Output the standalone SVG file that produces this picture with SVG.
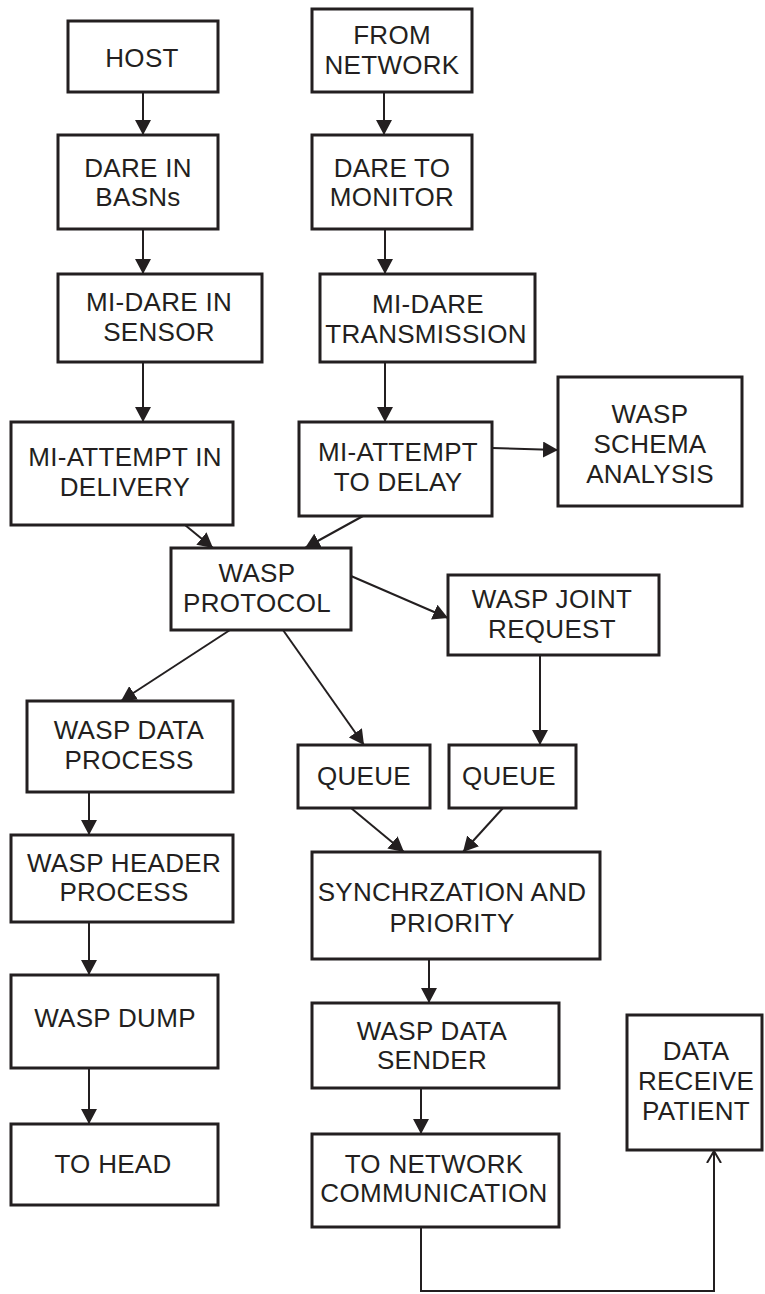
<svg xmlns="http://www.w3.org/2000/svg" width="765" height="1294" viewBox="0 0 765 1294">
<defs>
<style>
.box{fill:#ffffff;stroke:#231f20;stroke-width:3}
.t{font-family:"Liberation Sans",Arial,sans-serif;font-size:26px;letter-spacing:0.3px;fill:#231f20;text-anchor:middle}
.c{fill:none;stroke:#231f20;stroke-width:2}
.a{marker-end:url(#ah)}
</style>
<marker id="ah" viewBox="0 0 15 16" refX="15" refY="8" markerWidth="15" markerHeight="16" markerUnits="userSpaceOnUse" orient="auto">
<path d="M0,0 L15,8 L0,16 z" fill="#231f20"/>
</marker>
<marker id="oh" viewBox="0 0 12 16" refX="12" refY="8" markerWidth="12" markerHeight="16" markerUnits="userSpaceOnUse" orient="auto">
<path d="M0,1 L12,8 L0,15" fill="none" stroke="#231f20" stroke-width="2"/>
</marker>
</defs>
<rect width="765" height="1294" fill="#ffffff"/>
<g id="connectors">
<line class="c a" x1="143" y1="92" x2="143" y2="135"/>
<line class="c a" x1="384" y1="92" x2="384" y2="135"/>
<line class="c a" x1="143" y1="229" x2="143" y2="274"/>
<line class="c a" x1="385" y1="229" x2="385" y2="274"/>
<line class="c a" x1="143" y1="362" x2="143" y2="422"/>
<line class="c a" x1="385" y1="362" x2="385" y2="422"/>
<line class="c a" x1="492" y1="448" x2="558" y2="450"/>
<line class="c a" x1="185" y1="525" x2="213" y2="548"/>
<line class="c a" x1="363" y1="516" x2="305" y2="548"/>
<line class="c a" x1="351" y1="576" x2="448" y2="618"/>
<line class="c a" x1="230" y1="630" x2="121" y2="701"/>
<line class="c a" x1="283" y1="630" x2="364" y2="745"/>
<line class="c a" x1="540" y1="655" x2="540" y2="745"/>
<line class="c a" x1="89" y1="792" x2="89" y2="835"/>
<line class="c a" x1="351" y1="808" x2="404" y2="852"/>
<line class="c a" x1="503" y1="808" x2="463" y2="852"/>
<line class="c a" x1="89" y1="922" x2="89" y2="975"/>
<line class="c a" x1="89" y1="1068" x2="89" y2="1124"/>
<line class="c a" x1="429" y1="959" x2="429" y2="1003"/>
<line class="c a" x1="421" y1="1088" x2="421" y2="1134"/>
<polyline class="c" points="421,1227 421,1291 714,1291 714,1151" marker-end="url(#oh)"/>
</g>
<g id="host"><rect class="box" x="68" y="21" width="150" height="71"/><text class="t" x="142" y="67">HOST</text></g>
<g id="from-network"><rect class="box" x="312" y="9" width="160" height="83"/><text class="t" x="392" y="44">FROM</text><text class="t" x="392" y="74">NETWORK</text></g>
<g id="dare-basns"><rect class="box" x="58" y="135" width="160" height="94"/><text class="t" x="138" y="177">DARE IN</text><text class="t" x="138" y="206">BASNs</text></g>
<g id="dare-monitor"><rect class="box" x="312" y="135" width="160" height="94"/><text class="t" x="392" y="177">DARE TO</text><text class="t" x="392" y="206">MONITOR</text></g>
<g id="midare-sensor"><rect class="box" x="58" y="274" width="204" height="88"/><text class="t" x="159" y="311">MI-DARE IN</text><text class="t" x="159" y="341">SENSOR</text></g>
<g id="midare-transmission"><rect class="box" x="320" y="274" width="215" height="88"/><text class="t" x="428" y="313">MI-DARE</text><text class="t" x="426" y="343">TRANSMISSION</text></g>
<g id="miattempt-delivery"><rect class="box" x="11" y="422" width="222" height="103"/><text class="t" x="125" y="466">MI-ATTEMPT IN</text><text class="t" x="125" y="496">DELIVERY</text></g>
<g id="miattempt-delay"><rect class="box" x="299" y="422" width="193" height="94"/><text class="t" x="398" y="461">MI-ATTEMPT</text><text class="t" x="398" y="491">TO DELAY</text></g>
<g id="wasp-schema"><rect class="box" x="558" y="377" width="184" height="129"/><text class="t" x="650" y="423">WASP</text><text class="t" x="650" y="453">SCHEMA</text><text class="t" x="650" y="483">ANALYSIS</text></g>
<g id="wasp-protocol"><rect class="box" x="171" y="548" width="180" height="82"/><text class="t" x="257" y="582">WASP</text><text class="t" x="257" y="612">PROTOCOL</text></g>
<g id="wasp-joint"><rect class="box" x="448" y="575" width="211" height="80"/><text class="t" x="552" y="608">WASP JOINT</text><text class="t" x="552" y="638">REQUEST</text></g>
<g id="wasp-data-process"><rect class="box" x="27" y="701" width="206" height="91"/><text class="t" x="129" y="739">WASP DATA</text><text class="t" x="129" y="769">PROCESS</text></g>
<g id="queue-1"><rect class="box" x="298" y="745" width="132" height="63"/><text class="t" x="364" y="785">QUEUE</text></g>
<g id="queue-2"><rect class="box" x="449" y="745" width="127" height="63"/><text class="t" x="509" y="785">QUEUE</text></g>
<g id="wasp-header"><rect class="box" x="11" y="835" width="222" height="87"/><text class="t" x="124" y="872">WASP HEADER</text><text class="t" x="124" y="901">PROCESS</text></g>
<g id="sync"><rect class="box" x="312" y="852" width="288" height="107"/><text class="t" x="452" y="901">SYNCHRZATION AND</text><text class="t" x="452" y="932">PRIORITY</text></g>
<g id="wasp-dump"><rect class="box" x="11" y="975" width="207" height="93"/><text class="t" x="115" y="1027">WASP DUMP</text></g>
<g id="to-head"><rect class="box" x="11" y="1124" width="207" height="81"/><text class="t" x="113" y="1173">TO HEAD</text></g>
<g id="wasp-sender"><rect class="box" x="312" y="1003" width="247" height="85"/><text class="t" x="432" y="1040">WASP DATA</text><text class="t" x="432" y="1069">SENDER</text></g>
<g id="to-network"><rect class="box" x="312" y="1134" width="247" height="93"/><text class="t" x="434" y="1173">TO NETWORK</text><text class="t" x="434" y="1202">COMMUNICATION</text></g>
<g id="data-receive"><rect class="box" x="627" y="1015" width="135" height="135"/><text class="t" x="696" y="1060">DATA</text><text class="t" x="696" y="1090">RECEIVE</text><text class="t" x="696" y="1120">PATIENT</text></g>
</svg>
